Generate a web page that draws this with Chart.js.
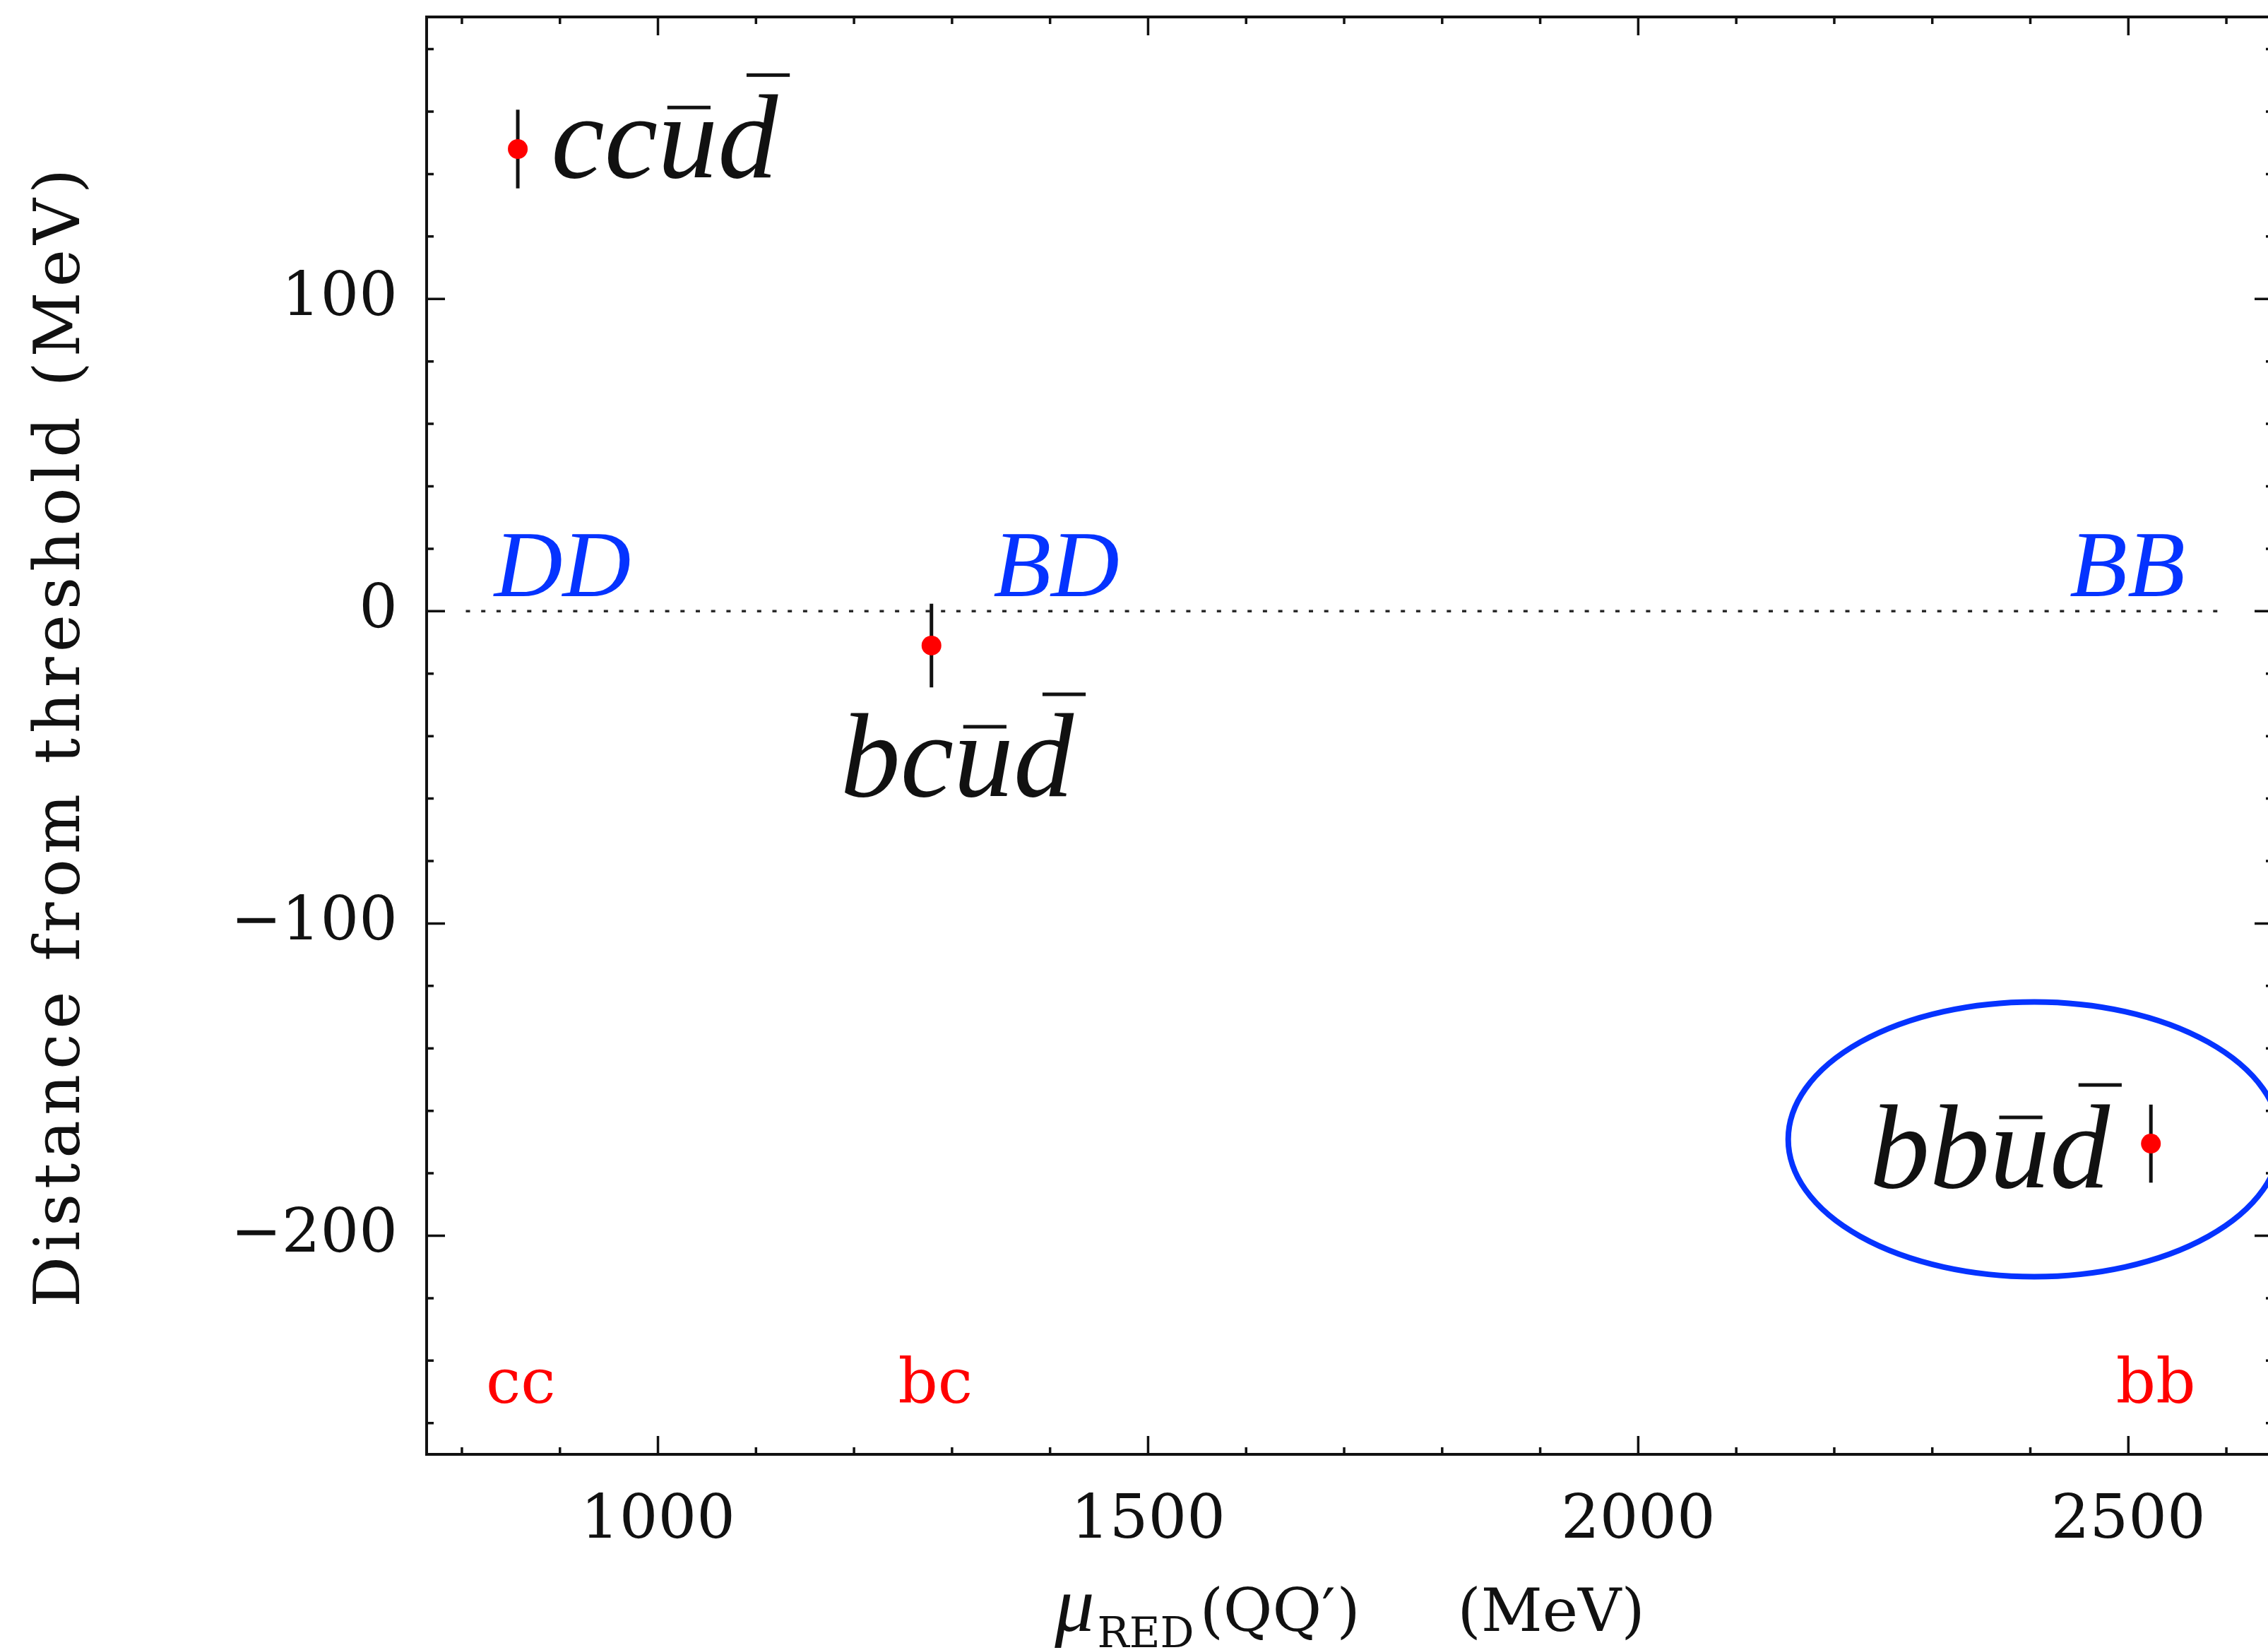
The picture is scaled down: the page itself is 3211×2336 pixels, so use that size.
<!DOCTYPE html>
<html>
<head>
<meta charset="utf-8">
<script src="https://cdn.jsdelivr.net/npm/chart.js@4.4.0/dist/chart.umd.min.js"></script>
<style>
  html, body { margin: 0; padding: 0; overflow: hidden; background: #ffffff; width: 3211px; height: 2336px; }
  #wrap { position: absolute; left: 0; top: 0; width: 3232px; height: 2336px; }
  canvas { display: block; }
</style>
</head>
<body>
<div id="wrap"><canvas id="chart" width="3232" height="2336"></canvas></div>
<script>
// ---------------- data ----------------
const systems   = ['cc', 'bc', 'bb'];
const muRed     = [857, 1279, 2523];          // reduced mass mu_RED(QQ') in MeV
const deltaE    = [148, -11, -170.5];         // distance from threshold (MeV)
const deltaErr  = [12.6, 13.4, 12.5];         // error bar half-lengths (MeV)
const thresholdNames = ['DD', 'BD', 'BB'];
const thresholdLineX = [804, 2594];
const thresholdLineY = [0, 0];
const xMajorTicks = [1000, 1500, 2000, 2500];
const xMinorTicks = [800, 900, 1100, 1200, 1300, 1400, 1600, 1700, 1800, 1900, 2100, 2200, 2300, 2400, 2600];
const yMajorTicks = [-200, -100, 0, 100];
const yMinorTicks = [-260, -240, -220, -180, -160, -140, -120, -80, -60, -40, -20, 20, 40, 60, 80, 120, 140, 160, 180];
const yTitle = 'Distance from threshold (MeV)';

// ---------------- annotation placement (data coordinates) ----------------
const quarkLabelPos = [ {x: 891, y: 139}, {x: 1186, y: -59.3}, {x: 2236, y: -184.4} ];
const thresholdLabelPos = [ {x: 833, y: 4.75}, {x: 1342, y: 4.75}, {x: 2440, y: 4.75} ];
const systemLabelPos = [ {x: 860, y: -253.4}, {x: 1283, y: -253.4}, {x: 2528, y: -253.4} ];
const ellipseSpec = { cx: 2404, cy: -169.1, rx: 251, ry: 44 };

const BLUE = '#0533ff';
const RED = '#ff0000';
const INK = '#111111';
const TT = '"DejaVu Serif", "Liberation Serif", serif';
const SERIF = '"Liberation Serif", "DejaVu Serif", serif';

function minusFmt(v) { return v < 0 ? '\u2212' + Math.abs(v) : String(v); }

function drawQuarkLabel(ctx, x0, y0, heavy, size) {
  ctx.font = 'italic ' + size + 'px ' + SERIF;
  ctx.fillStyle = INK;
  ctx.textAlign = 'left';
  ctx.textBaseline = 'alphabetic';
  let x = x0;
  ctx.fillText(heavy, x, y0);
  x += ctx.measureText(heavy).width;
  const wu = ctx.measureText('u').width;
  ctx.fillText('u', x, y0);
  const barW = 5;
  ctx.fillRect(x + 0.08 * size, y0 - 0.58 * size - barW / 2, 0.36 * size, barW);
  x += wu;
  ctx.fillText('d', x, y0);
  ctx.fillRect(x + 0.24 * size, y0 - 0.85 * size - barW / 2, 0.36 * size, barW);
}

const decorPlugin = {
  id: 'decor',
  beforeDatasetDraw(chart, args) {
    if (args.index !== 0) return;
    const { ctx, scales: { x, y } } = chart;
    ctx.save();
    ctx.strokeStyle = INK;
    ctx.lineWidth = 5;
    for (let i = 0; i < muRed.length; i++) {
      const px = x.getPixelForValue(muRed[i]);
      ctx.beginPath();
      ctx.moveTo(px, y.getPixelForValue(deltaE[i] + deltaErr[i]));
      ctx.lineTo(px, y.getPixelForValue(deltaE[i] - deltaErr[i]));
      ctx.stroke();
    }
    ctx.restore();
  },
  afterDatasetsDraw(chart) {
    const { ctx, scales: { x, y } } = chart;
    ctx.save();
    // ellipse around bb
    const cx = x.getPixelForValue(ellipseSpec.cx), cy = y.getPixelForValue(ellipseSpec.cy);
    const rx = Math.abs(x.getPixelForValue(ellipseSpec.cx + ellipseSpec.rx) - cx);
    const ry = Math.abs(y.getPixelForValue(ellipseSpec.cy + ellipseSpec.ry) - cy);
    ctx.beginPath();
    ctx.ellipse(cx, cy, rx, ry, 0, 0, Math.PI * 2);
    ctx.strokeStyle = BLUE;
    ctx.lineWidth = 8;
    ctx.stroke();

    // threshold labels
    ctx.font = 'italic 134px ' + SERIF;
    ctx.fillStyle = BLUE;
    ctx.textAlign = 'left';
    ctx.textBaseline = 'alphabetic';
    thresholdNames.forEach((t, i) => {
      ctx.fillText(t, x.getPixelForValue(thresholdLabelPos[i].x), y.getPixelForValue(thresholdLabelPos[i].y));
    });

    // quark content labels
    systems.forEach((s, i) => {
      drawQuarkLabel(ctx, x.getPixelForValue(quarkLabelPos[i].x), y.getPixelForValue(quarkLabelPos[i].y), s, 170);
    });

    // heavy-pair labels
    ctx.font = '88px ' + TT;
    ctx.fillStyle = RED;
    ctx.textAlign = 'center';
    systems.forEach((s, i) => {
      ctx.fillText(s, x.getPixelForValue(systemLabelPos[i].x), y.getPixelForValue(systemLabelPos[i].y));
    });
    ctx.restore();
  },
  afterDraw(chart) {
    const { ctx, chartArea: a, scales: { x, y } } = chart;
    ctx.save();
    ctx.strokeStyle = INK;
    // frame
    ctx.lineWidth = 4;
    ctx.strokeRect(a.left, a.top, a.right - a.left, a.bottom - a.top);
    // inward ticks
    ctx.lineWidth = 3.5;
    const tick = (vals, len, isX) => {
      vals.forEach(v => {
        ctx.beginPath();
        if (isX) {
          const p = x.getPixelForValue(v);
          ctx.moveTo(p, a.bottom); ctx.lineTo(p, a.bottom - len);
          ctx.moveTo(p, a.top); ctx.lineTo(p, a.top + len);
        } else {
          const p = y.getPixelForValue(v);
          ctx.moveTo(a.left, p); ctx.lineTo(a.left + len, p);
          ctx.moveTo(a.right, p); ctx.lineTo(a.right - len, p);
        }
        ctx.stroke();
      });
    };
    tick(xMajorTicks, 26, true);
    tick(xMinorTicks, 10, true);
    tick(yMajorTicks, 26, false);
    tick(yMinorTicks, 10, false);

    ctx.fillStyle = INK;
    // y-axis title (rotated), typewriter-like spacing
    ctx.save();
    ctx.font = '90px ' + TT;
    ctx.letterSpacing = '7px';
    ctx.textAlign = 'center';
    ctx.textBaseline = 'alphabetic';
    ctx.translate(112, (a.top + a.bottom) / 2);
    ctx.rotate(-Math.PI / 2);
    ctx.fillText(yTitle, 0, 0);
    ctx.restore();

    // x-axis title: mu_RED(QQ')   (MeV)
    const base = a.bottom + 250;
    const pieces = [
      { t: '\u03bc', f: 'italic 112px ' + SERIF, dy: 0, gap: 4 },
      { t: 'RED', f: '60px ' + TT, dy: 23, gap: 8 },
      { t: '(QQ', f: '85px ' + TT, dy: 0, gap: 0 },
      { t: '\u2032', f: '85px ' + TT, dy: 0, gap: 2 },
      { t: ')', f: '85px ' + TT, dy: 0, gap: 138 },
      { t: '(MeV)', f: '85px ' + TT, dy: 0, gap: 0 }
    ];
    let total = 0;
    pieces.forEach(p => { ctx.font = p.f; p.w = ctx.measureText(p.t).width; total += p.w + p.gap; });
    let cx = (a.left + a.right) / 2 - total / 2;
    ctx.textAlign = 'left';
    ctx.textBaseline = 'alphabetic';
    pieces.forEach(p => { ctx.font = p.f; ctx.fillText(p.t, cx, base + p.dy); cx += p.w + p.gap; });
    ctx.restore();
  }
};

new Chart(document.getElementById('chart'), {
  type: 'scatter',
  data: {
    datasets: [
      {
        label: 'tetraquarks',
        data: muRed.map((v, i) => ({ x: v, y: deltaE[i] })),
        pointRadius: 14,
        pointHoverRadius: 14,
        pointBackgroundColor: RED,
        pointBorderColor: RED,
        pointBorderWidth: 0,
        showLine: false
      },
      {
        label: 'threshold',
        data: thresholdLineX.map((v, i) => ({ x: v, y: thresholdLineY[i] })),
        showLine: true,
        pointRadius: 0,
        borderColor: '#2a2a2a',
        borderWidth: 3.5,
        borderDash: [6, 15.7],
        fill: false
      }
    ]
  },
  options: {
    responsive: false,
    animation: false,
    devicePixelRatio: 1,
    events: [],
    layout: { padding: { top: 24, right: 10, left: 0, bottom: 0 } },
    plugins: { legend: { display: false }, tooltip: { enabled: false } },
    scales: {
      x: {
        type: 'linear',
        min: 764, max: 2647.5,
        grid: { display: false, drawTicks: false },
        border: { display: false },
        afterBuildTicks: s => { s.ticks = xMajorTicks.map(v => ({ value: v })); },
        afterFit: s => { s.height = 277; s.paddingLeft = 0; s.paddingRight = 0; },
        ticks: {
          font: { family: 'DejaVu Serif', size: 86 },
          color: INK, padding: 44, maxRotation: 0, autoSkip: false,
          callback: v => minusFmt(v)
        }
      },
      y: {
        type: 'linear',
        min: -270, max: 190.3,
        grid: { display: false, drawTicks: false },
        border: { display: false },
        afterBuildTicks: s => { s.ticks = yMajorTicks.map(v => ({ value: v })); },
        afterFit: s => { s.width = 604; s.paddingTop = 0; s.paddingBottom = 0; },
        ticks: {
          font: { family: 'DejaVu Serif', size: 86 },
          color: INK, padding: 41, autoSkip: false,
          callback: v => minusFmt(v)
        }
      }
    }
  },
  plugins: [decorPlugin]
});
</script>
</body>
</html>
